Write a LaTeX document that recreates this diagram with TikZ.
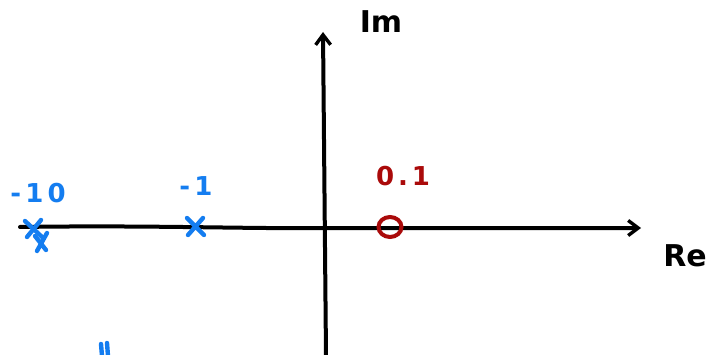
\documentclass[tikz,border=0pt]{standalone}
\usepackage{fontspec}
\setmainfont{DejaVu Sans}
\usetikzlibrary{arrows.meta}
\definecolor{penblue}{RGB}{20,125,240}
\definecolor{penred}{RGB}{170,10,10}
\tikzset{
  axis/.style={line width=4pt, line cap=round, line join=round, -{Straight Barb[length=10pt,width=15pt,line width=3.4pt]}},
  pole/.style={penblue, line width=4.4pt, line cap=round},
  zero/.style={penred, line width=4pt},
  bluelbl/.style={text=penblue, font=\fontsize{26}{26}\selectfont\bfseries\addfontfeature{LetterSpace=16}},
  redlbl/.style={text=penred, font=\fontsize{26}{26}\selectfont\bfseries\addfontfeature{LetterSpace=15}},
  blacklbl/.style={text=black, font=\fontsize{30}{30}\selectfont\bfseries}
}
\begin{document}
\begin{tikzpicture}[x=1pt,y=-1pt]
\useasboundingbox (0,0) rectangle (711,355);
% axes
\coordinate (xs) at (20,227);
\coordinate (xe) at (641,228);
\coordinate (ys) at (326,356);
\coordinate (ye) at (323,32);
\draw[axis] (xs) .. controls (150,225) and (250,229) .. (326,228) -- (xe);
\draw[axis] (ys) -- (ye);
\node[blacklbl, anchor=center] (im) at (381,22) {Im};
\node[blacklbl, anchor=center] (re) at (685,256) {Re};
% poles
\draw[pole] (25,221) -- (42,237) (41,220) -- (27,237);
\draw[pole] (35,236) -- (46,250) (47,233) -- (37,251);
\draw[pole] (187,218) -- (204,235) (203,218) -- (188,235);
\node[bluelbl] (m10) at (38,193) {-10};
\node[bluelbl] (m1) at (196,186) {-1};
\draw[pole] (101,344) -- (102,356) (107,343) -- (108,356);
% zero
\draw[zero] (390,227) ellipse (11.5pt and 10pt);
\node[redlbl] (z) at (403,176) {0.1};
\end{tikzpicture}
\end{document}
